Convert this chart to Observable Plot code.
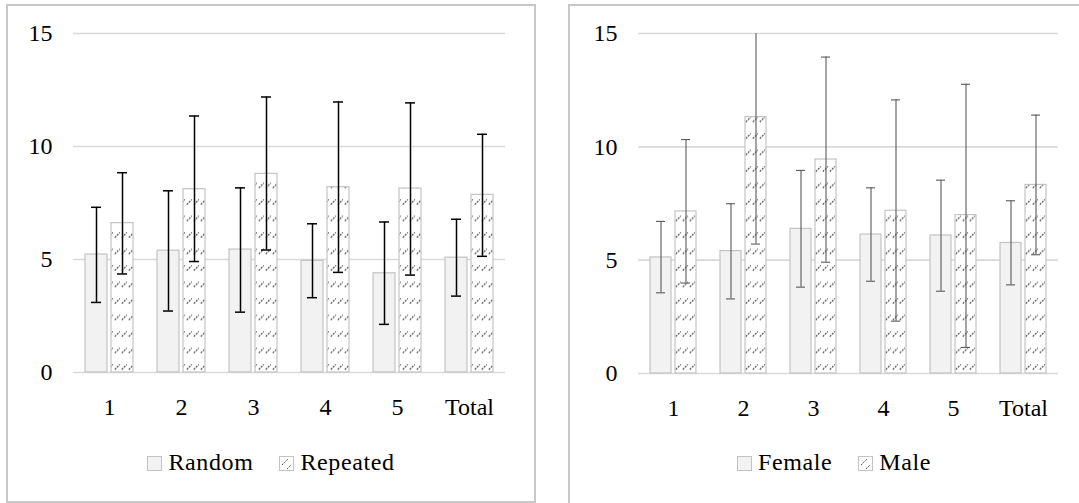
<!DOCTYPE html>
<html>
<head>
<meta charset="utf-8">
<script src="https://cdn.jsdelivr.net/npm/d3@7"></script>
<script src="https://cdn.jsdelivr.net/npm/@observablehq/plot@0.6"></script>
<style>
  html, body { margin: 0; padding: 0; background: #fff; }
  body { width: 1079px; height: 503px; position: relative; overflow: hidden; font-family: "Liberation Serif", serif; }
  .panel { position: absolute; box-sizing: border-box; border: 2px solid #c8c8c8; }
  .chart { position: absolute; top: 0; }
  .legend { position: absolute; top: 448px; height: 28px; line-height: 28px; font-size: 24px; letter-spacing: 0.6px; text-align: center; color: #000; white-space: nowrap; }
  .legend .item { display: inline-block; }
  .legend svg { vertical-align: -1px; margin-right: 6px; }
</style>
</head>
<body>
<div class="panel" style="left:6px; top:4px; width:530px; height:499px;"></div>
<div class="panel" style="left:568px; top:4px; width:600px; height:600px;"></div>
<div id="c1" class="chart" style="left:0px;"></div>
<div id="c2" class="chart" style="left:540px;"></div>
<div id="l1" class="legend" style="left:7px; width:528px;"></div>
<div id="l2" class="legend" style="left:569px; width:530px;"></div>
<script>
// ---- Data ----
const groups = ["1", "2", "3", "4", "5", "Total"];

// Left chart
const leftSeries = ["Random", "Repeated"];
const randomMean = [5.22, 5.39, 5.44, 4.94, 4.39, 5.08];
const randomLow  = [3.10, 2.72, 2.67, 3.31, 2.13, 3.38];
const randomHigh = [7.31, 8.04, 8.17, 6.58, 6.66, 6.78];
const repeatedMean = [6.61, 8.11, 8.79, 8.20, 8.14, 7.86];
const repeatedLow  = [4.36, 4.91, 5.42, 4.43, 4.31, 5.14];
const repeatedHigh = [8.84, 11.35, 12.19, 11.97, 11.93, 10.54];

// Right chart
const rightSeries = ["Female", "Male"];
const femaleMean = [5.12, 5.40, 6.38, 6.13, 6.09, 5.76];
const femaleLow  = [3.56, 3.29, 3.81, 4.07, 3.63, 3.91];
const femaleHigh = [6.71, 7.49, 8.96, 8.19, 8.53, 7.62];
const maleMean = [7.15, 11.31, 9.44, 7.18, 6.99, 8.32];
const maleLow  = [3.99, 5.71, 4.91, 2.31, 1.15, 5.24];
const maleHigh = [10.32, 16.9, 13.96, 12.07, 12.76, 11.40];

const yTicks = [0, 5, 10, 15];

function rowsFor(series, mean, low, high) {
  return groups.map((g, i) => ({group: g, series, mean: mean[i], low: low[i], high: high[i]}));
}

function makeChart(opts) {
  const {seriesNames, plainRows, hatchRows, width, marginLeft, marginRight, marginBottom, errColor, errWidth, patternId} = opts;
  const all = plainRows.concat(hatchRows);
  const svg = Plot.plot({
    width, height: 430,
    marginLeft, marginRight, marginTop: 33, marginBottom,
    style: {fontFamily: "'Liberation Serif', serif", fontSize: "24px", color: "#000", background: "transparent", overflow: "visible"},
    fx: {domain: groups, padding: 0, label: null, axis: "bottom", tickSize: 0, tickPadding: 25},
    x: {domain: seriesNames, paddingInner: 0.15, paddingOuter: 0.44, axis: null},
    y: {domain: [0, 15], ticks: yTicks, tickSize: 0, tickPadding: 21, label: null, tickFormat: d => String(d)},
    marks: [
      Plot.ruleY(yTicks, {stroke: "#d9d9d9", strokeWidth: 1.6}),
      Plot.barY(plainRows, {fx: "group", x: "series", y: "mean", fill: "#f2f2f2", stroke: "#c3c3c3", strokeWidth: 1.2}),
      Plot.barY(hatchRows, {fx: "group", x: "series", y: "mean", fill: `url(#${patternId})`, stroke: "#c3c3c3", strokeWidth: 1.2}),
      Plot.ruleX(all, {fx: "group", x: "series", y1: "low", y2: "high", stroke: errColor, strokeWidth: errWidth, clip: true}),
      Plot.tickY(all, {fx: "group", x: "series", y: "high", stroke: errColor, strokeWidth: errWidth, insetLeft: 6, insetRight: 6, clip: true}),
      Plot.tickY(all, {fx: "group", x: "series", y: "low", stroke: errColor, strokeWidth: errWidth, insetLeft: 6, insetRight: 6, clip: true})
    ]
  });
  // hatch pattern definition
  const s = d3.select(svg);
  const defs = s.insert("defs", ":first-child");
  const p = defs.append("pattern")
    .attr("id", patternId)
    .attr("patternUnits", "userSpaceOnUse")
    .attr("width", 7).attr("height", 16.5);
  p.append("rect").attr("width", 7).attr("height", 16.5).attr("fill", "#fff");
  p.append("line")
    .attr("x1", 0.8).attr("y1", 6.5).attr("x2", 5.8).attr("y2", 1.5)
    .attr("stroke", "#5a5a5a").attr("stroke-width", 1.25)
    .attr("stroke-dasharray", "2 1.1");
  return svg;
}

function swatch(hatched) {
  const ns = "http://www.w3.org/2000/svg";
  const sv = document.createElementNS(ns, "svg");
  sv.setAttribute("width", 15); sv.setAttribute("height", 15);
  const r = document.createElementNS(ns, "rect");
  r.setAttribute("x", 0.5); r.setAttribute("y", 0.5); r.setAttribute("width", 14); r.setAttribute("height", 14);
  r.setAttribute("fill", hatched ? "#fff" : "#f2f2f2");
  r.setAttribute("stroke", "#c3c3c3");
  sv.appendChild(r);
  if (hatched) {
    const l = document.createElementNS(ns, "line");
    l.setAttribute("x1", 3); l.setAttribute("y1", 9); l.setAttribute("x2", 9); l.setAttribute("y2", 3);
    l.setAttribute("stroke", "#5a5a5a"); l.setAttribute("stroke-dasharray", "2 1.1");
    sv.appendChild(l);
    const l2 = document.createElementNS(ns, "line");
    l2.setAttribute("x1", 8); l2.setAttribute("y1", 13); l2.setAttribute("x2", 12); l2.setAttribute("y2", 9);
    l2.setAttribute("stroke", "#5a5a5a"); l2.setAttribute("stroke-dasharray", "2 1.1");
    sv.appendChild(l2);
  }
  return sv;
}

function legend(el, names) {
  names.forEach((n, i) => {
    const item = document.createElement("span");
    item.className = "item";
    if (i > 0) item.style.marginLeft = "26px";
    item.appendChild(swatch(i === 1));
    item.appendChild(document.createTextNode(n));
    el.appendChild(item);
  });
}

document.getElementById("c1").appendChild(makeChart({
  seriesNames: leftSeries,
  plainRows: rowsFor("Random", randomMean, randomLow, randomHigh),
  hatchRows: rowsFor("Repeated", repeatedMean, repeatedLow, repeatedHigh),
  width: 540, marginLeft: 71, marginRight: 34, marginBottom: 58,
  errColor: "#000", errWidth: 1.5, patternId: "hatchL"
}));
document.getElementById("c2").appendChild(makeChart({
  seriesNames: rightSeries,
  plainRows: rowsFor("Female", femaleMean, femaleLow, femaleHigh),
  hatchRows: rowsFor("Male", maleMean, maleLow, maleHigh),
  width: 539, marginLeft: 96, marginRight: 20, marginBottom: 57,
  errColor: "#595959", errWidth: 1.1, patternId: "hatchR"
}));
legend(document.getElementById("l1"), leftSeries);
legend(document.getElementById("l2"), rightSeries);
</script>
</body>
</html>
